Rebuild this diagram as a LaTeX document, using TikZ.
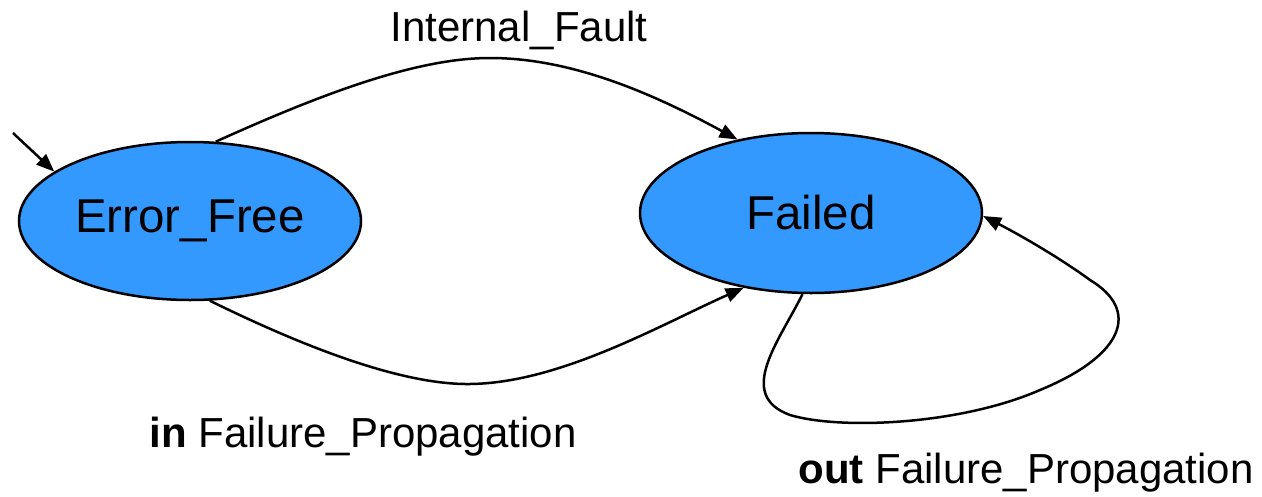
\documentclass[tikz,border=0pt]{standalone}
\usepackage{fontspec}
\setmainfont{Liberation Sans}
\usetikzlibrary{shapes.geometric,arrows.meta}
\definecolor{stateblue}{HTML}{3399FF}
\tikzset{
  state/.style={ellipse,draw=black,line width=2.5pt,fill=stateblue,inner sep=0pt,
    minimum width=342pt,minimum height=158pt,font=\fontsize{47.5}{56}\selectfont},
  lbl/.style={font=\fontsize{42}{50}\selectfont,inner sep=0pt},
  conn/.style={line width=2.5pt,-{Triangle[length=18pt,width=14pt]}}
}
\begin{document}
\begin{tikzpicture}[x=1pt,y=-1pt]
\useasboundingbox (0,0) rectangle (1262,496);
\node[state] (ef) at (190,221) {Error\_Free};
\node[state,minimum height=160pt] (f) at (811,213) {Failed};
\coordinate (init) at (13,133);
\draw[conn] (init) -- (ef.160);
\draw[conn] (ef.72) .. controls (330,90) and (420,58) .. (490,58)
  .. controls (570,58) and (650,92) .. (f.135);
\draw[conn] (ef.-76) .. controls (300,345) and (400,385) .. (470,384)
  .. controls (560,383) and (660,325) .. (f.-132);
\draw[conn] (f.-96) .. controls (780,340) and (735,395) .. (790,415)
  .. controls (840,430) and (960,425) .. (1040,390)
  .. controls (1125,355) and (1140,310) .. (1090,280)
  .. controls (1060,258) and (1020,235) .. (f.-1);
\node[lbl] (l1) at (519,30) {Internal\_Fault};
\node[lbl] (l2) at (363,437) {\textbf{in} Failure\_Propagation};
\node[lbl] (l3) at (1026,473) {\textbf{out} Failure\_Propagation};
\end{tikzpicture}
\end{document}
